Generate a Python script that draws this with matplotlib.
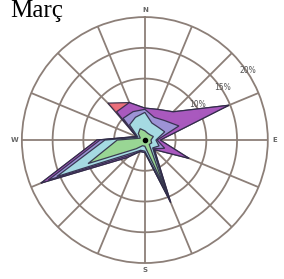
import numpy as np
import matplotlib
matplotlib.use('Agg')
import matplotlib.pyplot as plt

# wind rose for March, 16 directions, % frequency per speed class
directions = ['N', 'NNE', 'NE', 'ENE', 'E', 'ESE', 'SE', 'SSE',
              'S', 'SSW', 'SW', 'WSW', 'W', 'WNW', 'NW', 'NNW']
class_green = [1.5, 1.2, 1.2, 1.5, 1.0, 1.2, 1.0, 8.5, 1.0, 1.0, 2.0, 10.0, 4.5, 0.8, 1.5, 2.0]
class_cyan = [3.0, 1.8, 1.8, 2.0, 0.8, 1.3, 0.8, 1.0, 0.8, 0.8, 1.0, 5.5, 2.0, 0.4, 2.0, 2.0]
class_blue = [0.5, 1.0, 1.5, 2.5, 0.2, 1.0, 0.2, 0.7, 0.2, 0.2, 0.5, 1.5, 0.8, 0.2, 1.5, 1.0]
class_purple = [0.2, 1.4, 2.0, 8.8, 0.5, 4.3, 0.2, 0.8, 0.0, 0.0, 0.5, 1.3, 0.5, 0.1, 1.5, 1.6]
class_red = [0.0, 0.0, 0.0, 0.0, 0.0, 0.0, 0.0, 0.0, 0.0, 0.0, 0.0, 0.0, 0.0, 0.0, 2.0, 0.0]
ring_values = [5, 10, 15, 20]
ring_labels = ['', '10%', '15%', '20%']
title = 'Març'

layers = [class_green, class_cyan, class_blue, class_purple, class_red]
colors = ['#98d68c', '#a6e2e4', '#9c9ad8', '#a257c6', '#e8606e']
cum = np.cumsum(np.array(layers), axis=0)

theta = np.deg2rad(np.arange(len(directions)) * 22.5)
theta_c = np.append(theta, theta[0])

fig = plt.figure(figsize=(2.84, 2.79), dpi=100)
ax = fig.add_axes([0.077, 0.057, 0.866, 0.882], projection='polar')
ax.set_theta_zero_location('N')
ax.set_theta_direction(-1)
ax.set_ylim(0, 20)

gcol = '#8c7f78'
ax.grid(False)
ax.spines['polar'].set_color(gcol)
ax.spines['polar'].set_linewidth(1.3)
for r in ring_values[:-1]:
    ax.plot(np.linspace(0, 2 * np.pi, 200), np.full(200, r), color=gcol, lw=1.3, zorder=1)
for t in theta:
    ax.plot([t, t], [0, 20], color=gcol, lw=1.3, zorder=1)

# outer class first so inner classes are drawn on top
for i in range(len(layers) - 1, -1, -1):
    r = np.append(cum[i], cum[i][0])
    ax.fill(theta_c, r, facecolor=colors[i], edgecolor='#2e2a45', lw=0.9,
            alpha=0.9, zorder=2 + (len(layers) - i))
ax.plot(0, 0, 'o', color='black', ms=3, zorder=10)

ax.set_xticks([])
ax.set_yticks([])
for v, lab in zip(ring_values, ring_labels):
    if lab:
        ax.text(np.deg2rad(56), v + 0.3, lab, fontsize=5.5, color='#555555',
                ha='center', va='center', zorder=12)

for ang, lab in zip([0, 90, 180, 270], ['N', 'E', 'S', 'W']):
    ax.text(np.deg2rad(ang), 21.1, lab, fontsize=5, color='#666666',
            fontweight='bold', ha='center', va='center')

fig.text(0.035, 0.94, title, fontsize=18, family='Liberation Serif',
         ha='left', va='baseline')

fig.savefig('out.png', dpi=100)
